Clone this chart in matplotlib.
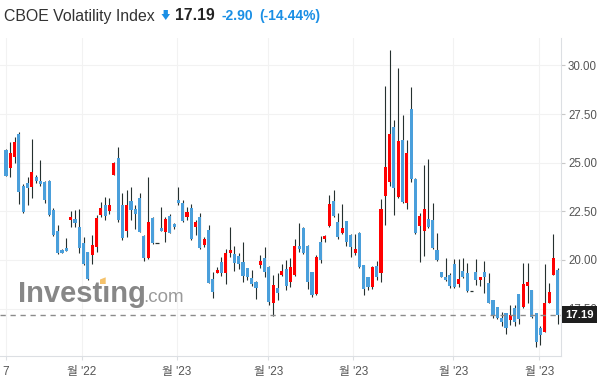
import numpy as np
import matplotlib
matplotlib.use("Agg")
import matplotlib.pyplot as plt
from matplotlib.patches import Polygon
from matplotlib.transforms import blended_transform_factory

# daily OHLC
opens = [25.66, 24.74, 25.31, 26.48, 23.82, 23.94, 23.77, 24.28, 24.08, 24.03,
         24.06, 22.57, 21.49, 20.50, 20.63, 22.06, 22.11, 21.68, 20.86, 20.40,
         20.26, 20.69, 22.31, 22.83, 22.53, 24.39, 25.23, 22.83, 21.51, 23.05,
         22.61, 23.17, 21.23, 20.09, 22.14, 20.86, 21.63, 21.46, 22.26, 21.85,
         23.08, 22.95, 22.20, 22.66, 21.71, 22.20, 20.77, 21.54, 19.02, 19.35,
         19.91, 19.31, 20.38, 20.31, 20.21, 19.88, 19.57, 19.06, 18.88, 19.74,
         20.09, 19.62, 17.77, 18.54, 19.23, 19.52, 18.88, 19.23, 20.72, 21.63,
         20.72, 19.37, 18.25, 20.94, 21.06, 21.75, 23.05, 21.97, 21.37, 22.01,
         21.29, 20.38, 21.40, 19.74, 19.11, 18.63, 19.69, 19.35, 23.29, 24.03,
         26.82, 23.22, 26.17, 22.92, 27.76, 24.17, 21.75, 21.51, 22.09, 22.06,
         20.51, 19.37, 19.11, 19.23, 19.79, 18.77, 19.45, 19.31, 18.40, 19.37,
         18.97, 19.37, 18.80, 17.94, 17.57, 17.00, 17.26, 16.92, 17.52, 18.25,
         17.57, 18.68, 18.46, 17.25, 16.49, 16.31, 17.80, 19.23, 19.49]
highs = [25.72, 26.08, 26.31, 26.57, 23.89, 24.28, 26.20, 24.37, 25.14, 24.08,
         24.11, 22.66, 21.80, 20.55, 21.12, 22.53, 22.57, 22.60, 21.20, 20.43,
         21.29, 22.31, 22.99, 23.25, 23.17, 25.05, 25.79, 23.43, 23.60, 23.77,
         22.83, 23.43, 21.29, 24.25, 22.20, 20.86, 22.74, 22.23, 22.37, 21.89,
         23.74, 23.08, 22.74, 22.88, 22.06, 22.43, 21.20, 21.80, 19.40, 19.62,
         20.17, 20.55, 21.68, 20.72, 20.34, 20.94, 19.60, 19.49, 18.93, 20.26,
         20.69, 19.69, 19.23, 19.31, 19.79, 20.00, 20.09, 21.06, 21.92, 21.68,
         20.77, 19.40, 20.26, 21.23, 21.29, 23.34, 23.60, 22.40, 22.88, 22.02,
         21.34, 21.34, 21.46, 19.76, 19.14, 19.69, 19.96, 23.12, 28.95, 30.80,
         27.20, 29.85, 27.46, 26.17, 28.88, 24.20, 22.40, 24.88, 25.17, 22.92,
         21.37, 19.40, 20.09, 19.31, 20.03, 20.03, 20.09, 19.86, 18.40, 20.03,
         19.14, 19.96, 19.31, 17.96, 17.60, 17.34, 17.29, 17.69, 17.69, 18.27,
         19.83, 19.83, 18.48, 17.30, 16.61, 19.79, 18.80, 21.34, 19.57]
lows = [24.30, 24.25, 25.00, 22.88, 22.40, 22.83, 23.17, 23.97, 23.80, 22.92,
        22.26, 21.23, 20.30, 20.34, 20.45, 21.68, 21.68, 20.34, 19.76, 18.97,
        19.79, 20.43, 22.23, 22.06, 22.37, 24.37, 21.97, 21.03, 21.20, 22.06,
        21.58, 21.43, 19.96, 20.03, 20.82, 20.86, 21.48, 20.94, 21.37, 21.58,
        22.83, 21.97, 22.06, 21.03, 21.29, 20.55, 20.69, 18.80, 18.03, 19.32,
        19.18, 18.77, 20.17, 19.45, 19.52, 18.88, 18.97, 18.66, 17.98, 19.57,
        19.14, 17.69, 17.12, 17.94, 19.18, 18.46, 18.60, 19.20, 20.43, 20.31,
        18.49, 18.11, 18.20, 19.86, 20.94, 21.72, 22.23, 21.06, 21.34, 20.72,
        20.14, 20.26, 19.57, 18.20, 18.46, 18.49, 18.97, 18.88, 21.80, 23.80,
        22.31, 23.19, 22.95, 22.61, 24.03, 21.34, 19.91, 20.21, 21.63, 20.55,
        19.96, 19.11, 18.93, 18.54, 18.54, 18.60, 19.06, 18.37, 18.40, 18.71,
        18.66, 18.29, 17.78, 17.00, 16.95, 16.61, 16.20, 16.66, 16.61, 16.71,
        17.55, 17.77, 17.03, 15.54, 15.63, 16.29, 17.78, 19.21, 16.71]
closes = [24.33, 25.49, 26.05, 23.51, 22.48, 23.69, 24.54, 24.08, 23.91, 23.08,
          22.31, 21.29, 20.34, 20.38, 20.48, 22.21, 21.89, 20.60, 19.79, 19.01,
          20.77, 22.14, 22.66, 22.26, 22.83, 25.00, 22.06, 21.12, 22.83, 22.57,
          22.37, 21.46, 20.09, 21.97, 20.86, 20.86, 21.51, 22.12, 21.41, 21.68,
          22.92, 22.02, 22.48, 21.08, 21.97, 20.60, 21.06, 18.83, 18.37, 19.49,
          19.31, 20.34, 20.51, 19.86, 19.79, 19.18, 19.11, 18.77, 18.54, 19.95,
          19.40, 17.86, 18.71, 18.32, 19.43, 18.66, 19.62, 20.72, 20.55, 20.34,
          18.88, 18.20, 20.14, 20.00, 21.23, 22.88, 22.26, 21.17, 21.63, 20.94,
          20.69, 20.55, 19.62, 18.49, 18.63, 19.62, 19.11, 22.61, 24.77, 26.48,
          23.71, 26.12, 23.00, 25.49, 24.15, 21.37, 22.26, 22.61, 21.71, 20.60,
          20.00, 19.14, 18.97, 18.66, 18.60, 19.01, 19.11, 18.42, 18.40, 18.97,
          19.11, 19.11, 17.80, 17.12, 17.00, 16.83, 16.49, 17.17, 16.83, 16.95,
          18.77, 18.88, 17.05, 15.80, 16.14, 17.77, 18.37, 20.09, 17.19]

month_labels = ["7", "월 '22", "월 '23", "월 '23", "월 '23", "월 '23", "월 '23"]
month_pos = [-0.05, 17.56, 39.6, 60.86, 80.6, 103.8, 123.7]
y_ticks = [17.5, 20.0, 22.5, 25.0, 27.5, 30.0]

UP = "#ff0000"
DOWN = "#4a9fdb"
WICK = "#25302f"
CHG = "#1a8fe5"

plt.rcParams["font.family"] = ["Liberation Sans", "Noto Sans CJK KR"]

W, H = 608, 387


def fx(px):
    return px / W


def fy(py):
    return 1 - py / H


def main():
    o = np.array(opens)
    h = np.array(highs)
    l = np.array(lows)
    c = np.array(closes)
    x = np.arange(len(c))

    fig = plt.figure(figsize=(W / 100, H / 100), dpi=100)
    ax = fig.add_axes([0, fy(356), fx(561), (356 - 38) / H])

    # wicks, then bodies
    ax.vlines(x, l, h, color=WICK, lw=0.8, zorder=2)
    doji = o == c
    colors = np.where(c > o, UP, DOWN)
    bottom = np.minimum(o, c)
    height = np.maximum(np.abs(c - o), 0.06)
    ax.bar(x[~doji], height[~doji], bottom=bottom[~doji], width=0.72,
           color=colors[~doji], linewidth=0, zorder=3)
    ax.hlines(o[doji], x[doji] - 0.4, x[doji] + 0.4, color=WICK, lw=0.9, zorder=3)

    ax.set_xlim(-1.39, 128.77)
    ax.set_ylim(15.064, 31.41)

    # last price line + tag
    last = c[-1]
    ax.axhline(last, color="#8a8a8a", lw=1.0, dashes=(3.8, 3.4), zorder=4)
    trans = blended_transform_factory(ax.transAxes, ax.transData)
    ax.annotate(f"{last:.2f}", xy=(1, last), xycoords=trans, xytext=(3, 0),
                textcoords="offset points", ha="left", va="center",
                color="white", fontsize=8.2, fontweight="bold",
                bbox=dict(boxstyle="square,pad=0.32", fc="#1e1e1e", ec="none"),
                annotation_clip=False, zorder=10)

    # axes styling
    ax.yaxis.tick_right()
    ax.set_yticks(y_ticks)
    ax.set_yticklabels([f"{v:.2f}" for v in y_ticks])
    ax.set_xticks(month_pos)
    ax.set_xticklabels(month_labels)
    ax.grid(True, color="#f2f2f2", lw=0.8, zorder=0)
    ax.set_axisbelow(True)
    for s in ["top", "left"]:
        ax.spines[s].set_visible(False)
    for s in ["right", "bottom"]:
        ax.spines[s].set_color("#dcdfe3")
        ax.spines[s].set_linewidth(0.8)
    ax.tick_params(axis="y", length=3, color="#c8c8c8", labelcolor="#555555",
                   labelsize=8.3, pad=2)
    ax.tick_params(axis="x", length=3, color="#dcdfe3", labelcolor="#555555",
                   labelsize=8.5, pad=4)

    # watermark
    ax.text(fx(18), fy(302), "Investıng", transform=fig.transFigure,
            fontsize=21, fontweight="bold", color="#878787", va="baseline",
            ha="left", zorder=1)
    ax.text(fx(143), fy(302), ".com", transform=fig.transFigure,
            fontsize=13.5, color="#9a9a9a", va="baseline", ha="left", zorder=1)
    dot = [(100, 284), (100, 279.5), (105.7, 277.3), (105.7, 284)]
    ax.add_patch(Polygon([(fx(a), fy(b)) for a, b in dot], closed=True,
                         transform=fig.transFigure, fc="#f5c26b", ec="none",
                         zorder=1))

    # header
    chg = last - c[-2]
    pct = chg / c[-2] * 100
    fig.text(fx(4), fy(16), "CBOE Volatility Index", fontsize=11.4,
             color="#333333", va="center", ha="left")
    arrow = [(163.6, 10), (167.9, 10), (167.9, 14), (170, 14), (165.75, 20),
             (161.5, 14), (163.6, 14)]
    fig.add_artist(Polygon([(fx(a), fy(b)) for a, b in arrow], closed=True,
                           transform=fig.transFigure, fc=CHG, ec="none"))
    fig.text(fx(175.5), fy(16), f"{last:.2f}", fontsize=11.3, fontweight="bold",
             color="#222222", va="center", ha="left")
    fig.text(fx(221.5), fy(16), f"{chg:.2f}", fontsize=10, fontweight="bold",
             color=CHG, va="center", ha="left")
    fig.text(fx(259), fy(16), f"({pct:.2f}%)", fontsize=10, fontweight="bold",
             color=CHG, va="center", ha="left")

    fig.savefig("out.png", dpi=100, facecolor="white")


if __name__ == "__main__":
    main()
